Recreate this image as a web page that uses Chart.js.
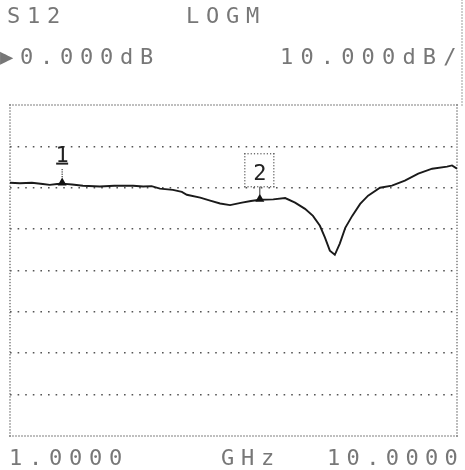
<!DOCTYPE html>
<html>
<head>
<meta charset="utf-8">
<script src="https://cdn.jsdelivr.net/npm/chart.js@4.4.1/dist/chart.umd.min.js"></script>
<style>
html,body{margin:0;padding:0;background:#fff;}
#wrap{width:465px;height:470px;}
</style>
</head>
<body>
<div id="wrap"><canvas id="c" width="465" height="470"></canvas></div>
<script>
// ---- data ----
const measurement = 'S12';
const format = 'LOGM';
const refValue = 0;        // dB
const scalePerDiv = 10;    // dB/div
const startFreq = 1;       // GHz
const stopFreq = 10;       // GHz
const freqUnit = 'GHz';
const freqs = [1.00,1.20,1.44,1.66,1.80,1.95,2.05,2.25,2.47,2.81,3.10,3.48,3.68,3.85,4.02,4.28,4.46,4.56,4.83,5.03,5.23,5.43,5.67,5.85,6.03,6.30,6.54,6.74,6.94,7.10,7.24,7.34,7.44,7.54,7.64,7.75,7.89,8.05,8.21,8.45,8.69,8.95,9.22,9.50,9.80,9.90,10.00];
const s12dB = [1.2,1.1,1.2,0.9,0.7,0.9,1.0,0.8,0.5,0.3,0.5,0.5,0.3,0.4,-0.2,-0.5,-1.0,-1.7,-2.4,-3.1,-3.8,-4.2,-3.6,-3.2,-2.9,-2.8,-2.5,-3.6,-5.1,-6.8,-9.2,-12.0,-15.2,-16.2,-13.5,-9.7,-6.8,-3.9,-1.9,0.0,0.5,1.7,3.4,4.6,5.1,5.4,4.6];
const markerLabels = ['1','2'];
const markerIndex = [6, 24];   // indices into freqs / s12dB

const points = freqs.map((f,i)=>({x:f, y:s12dB[i]}));

function dotLine(ctx, x1, y1, x2, y2, gap, size, color){
  ctx.save();
  ctx.fillStyle = color;
  const len = Math.hypot(x2-x1, y2-y1);
  const n = Math.floor(len/gap);
  for(let i=0;i<=n;i++){
    const t = n? i/n : 0;
    ctx.fillRect(x1+(x2-x1)*t - size/2, y1+(y2-y1)*t - size/2, size, size);
  }
  ctx.restore();
}

function pitchText(ctx, str, x, y, pitch){
  for(let i=0;i<str.length;i++){
    ctx.fillText(str[i], x + i*pitch, y);
  }
}

const analyzerPlugin = {
  id:'analyzer',
  beforeDatasetsDraw(chart){
    const {ctx, chartArea:a} = chart;
    dotLine(ctx, a.left, a.top, a.right, a.top, 3, 1.3, '#666');
    dotLine(ctx, a.left, a.bottom, a.right, a.bottom, 3, 1.3, '#666');
    dotLine(ctx, a.left, a.top, a.left, a.bottom, 3, 1.3, '#666');
    dotLine(ctx, a.right, a.top, a.right, a.bottom, 3, 1.3, '#666');
    dotLine(ctx, a.right+5, 0, a.right+5, a.top, 3, 1.2, '#777');
  },
  afterDatasetsDraw(chart){
    const {ctx, chartArea:a, scales:{x, y}} = chart;
    ctx.save();
    markerIndex.forEach((idx, k)=>{
      const px = x.getPixelForValue(freqs[idx]);
      const py = y.getPixelForValue(s12dB[idx]);
      ctx.fillStyle = '#111';
      ctx.beginPath();
      ctx.moveTo(px, py-6);
      ctx.lineTo(px-4.5, py+2);
      ctx.lineTo(px+4.5, py+2);
      ctx.closePath();
      ctx.fill();
      ctx.strokeStyle = '#333';
      ctx.lineWidth = 1;
      ctx.font = '22px "DejaVu Sans Mono"';
      ctx.textAlign = 'center';
      ctx.textBaseline = 'alphabetic';
      if(k === 0){
        dotLine(ctx, px, py-7, px, py-14, 2, 1.2, '#333');
        ctx.fillStyle = '#222';
        ctx.fillText(markerLabels[k], px, py-22);
        ctx.fillRect(px-6, py-21, 12, 2);
      } else {
        ctx.beginPath();
        ctx.moveTo(px, py-5); ctx.lineTo(px, py-13);
        ctx.stroke();
        const bx = px-15, by = py-46, bw = 29, bh = 33;
        dotLine(ctx, bx, by, bx+bw, by, 3, 1.2, '#555');
        dotLine(ctx, bx, by+bh, bx+bw, by+bh, 3, 1.2, '#555');
        dotLine(ctx, bx, by, bx, by+bh, 3, 1.2, '#555');
        dotLine(ctx, bx+bw, by, bx+bw, by+bh, 3, 1.2, '#555');
        ctx.fillStyle = '#222';
        ctx.fillText(markerLabels[k], px, py-20);
      }
    });
    ctx.fillStyle = '#777';
    ctx.font = '22px "DejaVu Sans Mono"';
    ctx.textAlign = 'left';
    ctx.textBaseline = 'alphabetic';
    const pitch = 20;
    pitchText(ctx, measurement, 7, 23, pitch);
    pitchText(ctx, format, 186, 23, pitch);
    pitchText(ctx, '\u25B6' + refValue.toFixed(3) + 'dB', 0, 64, pitch);
    pitchText(ctx, scalePerDiv.toFixed(3) + 'dB/', 280, 64, 20.4);
    pitchText(ctx, startFreq.toFixed(4), 9, 465, pitch);
    pitchText(ctx, freqUnit, 221, 465, pitch);
    pitchText(ctx, stopFreq.toFixed(4), 327, 465, 19.6);
    ctx.restore();
  }
};

new Chart(document.getElementById('c'), {
  type:'line',
  data:{
    datasets:[{
      data: points,
      borderColor:'#1a1a1a',
      borderWidth:1.9,
      pointRadius:0,
      tension:0,
      fill:false
    }]
  },
  options:{
    responsive:false,
    animation:false,
    layout:{padding:{left:10, right:8, top:105, bottom:34}},
    plugins:{legend:{display:false}, tooltip:{enabled:false}},
    scales:{
      x:{
        type:'linear', min:startFreq, max:stopFreq,
        ticks:{display:false},
        grid:{display:false, drawTicks:false},
        border:{display:false}
      },
      y:{
        type:'linear', min:refValue-6*scalePerDiv, max:refValue+2*scalePerDiv,
        ticks:{display:false, stepSize:scalePerDiv},
        grid:{
          drawTicks:false,
          lineWidth:1.6,
          color:(c)=> (c.index===0 || c.index===8) ? 'rgba(0,0,0,0)' : '#555'
        },
        border:{display:false, dash:[1.6,6]}
      }
    }
  },
  plugins:[analyzerPlugin]
});
</script>
</body>
</html>
